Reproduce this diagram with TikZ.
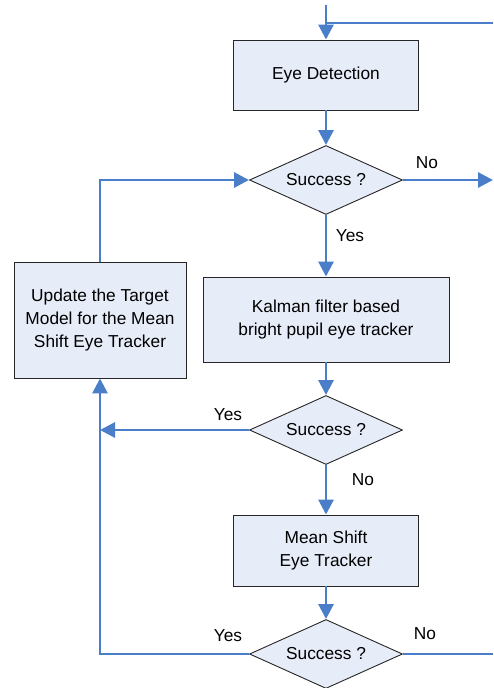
\documentclass[tikz,border=0pt]{standalone}
\usepackage{fontspec}
\setmainfont{Liberation Sans}
\usetikzlibrary{shapes.geometric,arrows.meta}
\definecolor{flowblue}{HTML}{4A7EC8}
\definecolor{boxfill}{HTML}{E7EDF8}
\tikzset{
  stepbox/.style={draw=black!85, line width=0.9pt, fill=boxfill, rectangle, inner sep=0pt,
    align=center, font=\fontsize{17.3}{23}\selectfont},
  decision/.style={draw=black!85, line width=0.9pt, fill=boxfill, diamond, aspect=2.2,
    inner sep=0pt, minimum width=153pt, minimum height=69pt, font=\fontsize{17.3}{23}\selectfont},
  flow/.style={draw=flowblue, line width=2.9pt},
  flowarrow/.style={flow, -{Triangle[length=15pt,width=15pt]}},
  lbl/.style={font=\fontsize{17.3}{20}\selectfont, inner sep=0pt}
}
\begin{document}
\begin{tikzpicture}[x=1pt,y=-1pt]
\useasboundingbox (0,0) rectangle (493,688);

% process boxes
\node[stepbox, minimum width=185pt, minimum height=70pt] (detect) at (326,75) {Eye Detection};
\node[stepbox, minimum width=246pt, minimum height=85pt] (kalman) at (326,319.5) {Kalman filter based\\bright pupil eye tracker};
\node[stepbox, minimum width=185pt, minimum height=71pt] (meanshift) at (326,550.5) {Mean Shift\\Eye Tracker};
\node[stepbox, minimum width=172pt, minimum height=116pt] (update) at (100,320) {Update the Target\\Model for the Mean\\Shift Eye Tracker};

% decisions
\node[decision] (d1) at (326,180) {Success ?};
\node[decision] (d2) at (326,430) {Success ?};
\node[decision] (d3) at (326,654) {Success ?};

% helper points
\coordinate (top) at (326,5);
\coordinate (join) at (326,23);
\coordinate (topright) at (493,23);
\coordinate (out1) at (493,180);
\coordinate (out3) at (493,654);
\coordinate (c2) at (100,430);
\coordinate (c3) at (100,654);
\coordinate (c1) at (100,180);

% entry from above and the loop back from the right
\draw[draw=flowblue, line width=1.2pt] (top) -- (join);
\draw[flow] (topright) -- (join);
\draw[flowarrow] (join) -- (detect.north);

% main column
\draw[flowarrow] (detect.south) -- (d1.north);
\draw[flowarrow] (d1.south) -- (kalman.north);
\draw[flowarrow] (kalman.south) -- (d2.north);
\draw[flowarrow] (d2.south) -- (meanshift.north);
\draw[flowarrow] (meanshift.south) -- (d3.north);

% exits to the right
\draw[flowarrow] (d1.east) -- (out1);
\draw[flow] (d3.east) -- (out3);

% success branches back to the model update
\draw[flowarrow] (d2.west) -- (c2);
\draw[flowarrow] (d3.west) -- (c3) -- (update.south);
\draw[flowarrow] (update.north) -- (c1) -- (d1.west);

% labels
\node[lbl] at (427,163) {No};
\node[lbl] at (350,236) {Yes};
\node[lbl] at (228,415) {Yes};
\node[lbl] at (363,480) {No};
\node[lbl] at (228,636) {Yes};
\node[lbl] at (425,634) {No};
\end{tikzpicture}
\end{document}
